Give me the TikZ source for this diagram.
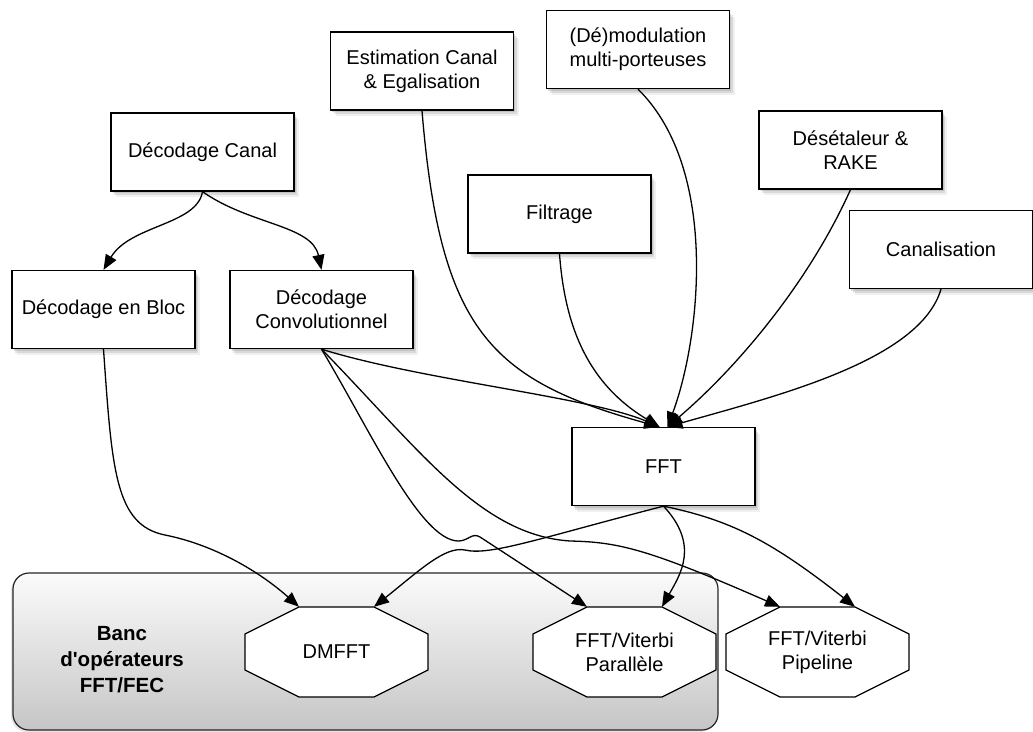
\documentclass[tikz,border=0pt]{standalone}
\usepackage{fontspec}
\newfontfamily\arial{Liberation Sans}
\usetikzlibrary{arrows.meta,shadows}
\newcommand\octo[4]{%
  \path[octline] ({#2-37.5},{#3-45}) -- ({#2+37.5},{#3-45}) -- ({#2+91.5},{#3-18}) -- ({#2+91.5},{#3+18}) -- ({#2+37.5},{#3+45}) -- ({#2-37.5},{#3+45}) -- ({#2-91.5},{#3+18}) -- ({#2-91.5},{#3-18}) -- cycle;
  \node[octtext] (#1) at (#2,#3) {#4};}
\begin{document}
\begin{tikzpicture}[x=1pt,y=-1pt,
  txt/.style={font=\arial\fontsize{20}{24}\selectfont, align=center},
  box/.style={txt, draw=black, line width=1.3pt, fill=white, minimum width=183pt, minimum height=78pt, inner sep=0pt,
    drop shadow={shadow xshift=5pt, shadow yshift=-6pt, opacity=0.12},
    drop shadow={shadow xshift=3pt, shadow yshift=-4pt, opacity=0.2},
    drop shadow={shadow xshift=1.5pt, shadow yshift=-2pt, opacity=0.25}},
  octtext/.style={txt, minimum width=183pt, minimum height=90pt, inner sep=0pt},
  octline/.style={draw=black, line width=1.3pt, fill=white},
  bankbox/.style={draw=black!85, line width=1.2pt, rounded corners=16pt, minimum width=705pt, minimum height=157pt,
    top color=gray!3, bottom color=gray!45, drop shadow={shadow xshift=-2pt, shadow yshift=-2pt, opacity=0.2}},
  conn/.style={line width=1.3pt, -{Triangle[length=15pt,width=12pt]}},
]
\useasboundingbox (0,0) rectangle (1033,731);

% container (upright y axis so that the shading runs from light top to grey bottom)
\begin{scope}[y=1pt]
\node[bankbox] (bank) at (365.5,-651.5) {};
\end{scope}
\node[font=\arial\bfseries\fontsize{20.5}{26}\selectfont, align=center] (banklbl) at (122,660) {Banc\\d'opérateurs\\FFT/FEC};

% octagons
\octo{dm}{336.5}{652}{DMFFT}
\octo{par}{624.5}{652}{FFT/Viterbi\\Parallèle}
\octo{pip}{817.5}{652}{FFT/Viterbi\\Pipeline}

% boxes
\node[box] (est) at (422,71) {Estimation Canal\\\& Egalisation};
\node[box] (dem) at (638,49.5) {(Dé)modulation\\multi-porteuses};
\node[box] (dc) at (202.5,152) {Décodage Canal};
\node[box] (des) at (850.5,150) {Désétaleur \&\\RAKE};
\node[box] (filt) at (559.5,214) {Filtrage};
\node[box] (can) at (941,249.5) {Canalisation};
\node[box] (db) at (103.5,309.5) {Décodage en Bloc};
\node[box] (dconv) at (321.5,309.5) {Décodage\\Convolutionnel};
\node[box] (fft) at (663.5,466.5) {FFT};

% connectors
\draw[conn] (dc.south) .. controls (197,225) and (130,225) .. (db.north);
\draw[conn] (dc.south) .. controls (250,225) and (312,225) .. (dconv.north);
\draw[conn] (db.south) .. controls (112,470) and (115,525) .. (165,535) .. controls (215,545) and (260,572) .. ([xshift=-37.5pt]dm.north);
\draw[conn] (dconv.south) .. controls (420,380) and (590,397) .. ([xshift=-4pt]fft.north);
\draw[conn] (dconv.south) .. controls (370,430) and (420,540) .. (458,541) .. controls (468,541.3) and (472,532) .. (480,537) -- ([xshift=-37.5pt]par.north);
\draw[conn] (dconv.south) .. controls (420,450) and (480,535) .. (570,541) .. controls (620,542) and (650,550) .. ([xshift=-37.5pt]pip.north);
\draw[conn] (fft.south) .. controls (540,538) and (490,556) .. (465,550) .. controls (445,546) and (420,570) .. ([xshift=37.5pt]dm.north);
\draw[conn] (fft.south) .. controls (700,545) and (680,575) .. ([xshift=37.5pt]par.north);
\draw[conn] (fft.south) .. controls (730,520) and (770,540) .. ([xshift=37.5pt]pip.north);
\draw[conn] (est.south) .. controls (440,330) and (490,380) .. ([xshift=-4pt]fft.north);
\draw[conn] (filt.south) .. controls (565,330) and (590,385) .. ([xshift=-4pt]fft.north);
\draw[conn] (dem.south) .. controls (720,170) and (700,340) .. ([xshift=4pt]fft.north);
\draw[conn] (des.south) .. controls (810,280) and (740,365) .. ([xshift=4pt]fft.north);
\draw[conn] (can.south) .. controls (920,360) and (780,395) .. ([xshift=4pt]fft.north);
\end{tikzpicture}
\end{document}
